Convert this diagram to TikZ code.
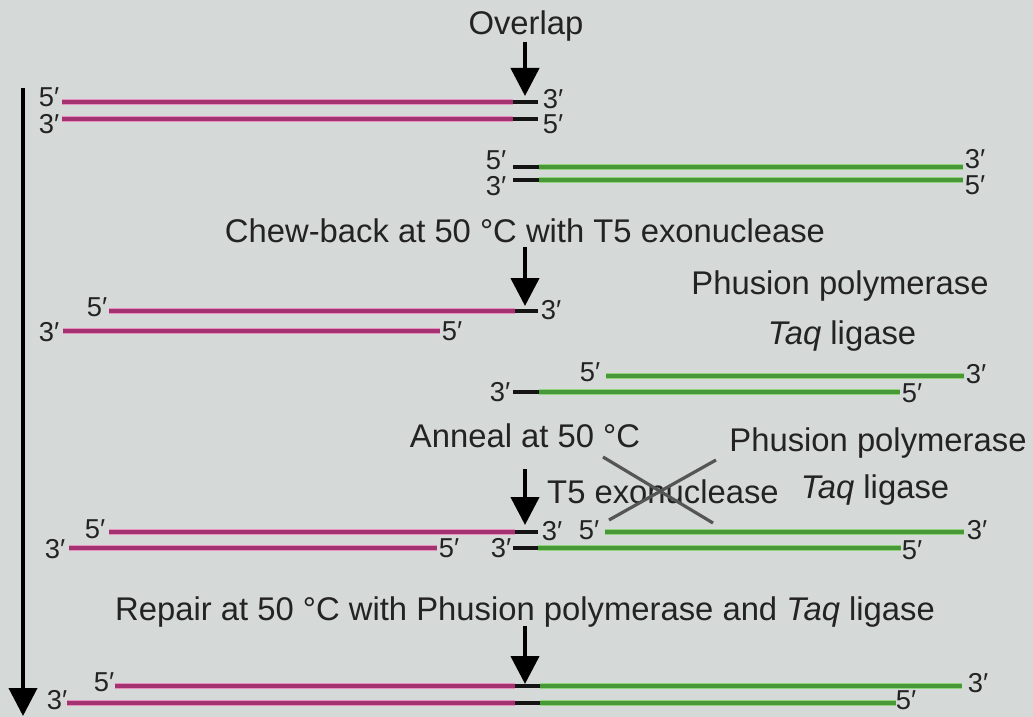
\documentclass[tikz,border=0pt]{standalone}
\usepackage{fontspec}
\setmainfont{Liberation Sans}
\usetikzlibrary{arrows.meta}
\definecolor{bg}{RGB}{213,217,216}
\definecolor{txt}{RGB}{35,35,35}
\definecolor{pinkin}{RGB}{165,50,112}
\definecolor{pinkout}{RGB}{230,145,192}
\definecolor{greenin}{RGB}{72,152,56}
\definecolor{greenout}{RGB}{145,212,125}
\definecolor{xgray}{RGB}{85,85,85}
\begin{document}
\begin{tikzpicture}[x=0.75pt,y=-0.75pt,
  pinkstr/.style={line width=2.3pt, draw=pinkin, preaction={draw=pinkout, line width=4.2pt}},
  greenstr/.style={line width=2.3pt, draw=greenin, preaction={draw=greenout, line width=4.2pt}},
  blackstr/.style={line width=3.2pt, draw=black!92},
  lbl/.style={font=\fontsize{20.5}{20.5}\selectfont, text=txt, inner sep=0pt},
  big/.style={font=\fontsize{24.6}{26}\selectfont, text=txt, inner sep=0pt, anchor=base},
  steparrow/.style={line width=3.3pt, -{Triangle[width=21pt,length=21pt]}},
  mainarrow/.style={line width=3pt, -{Triangle[width=21pt,length=21pt]}},
  cross/.style={line width=2.4pt, draw=xgray}]
\fill[bg] (0,0) rectangle (1033,717);
\useasboundingbox (0,0) rectangle (1033,717);

% main time arrow
\coordinate (mtop) at (23,88);
\coordinate (mbot) at (23,716);
\draw[mainarrow] (mtop) -- (mbot);

% ---------- Row 1 ----------
\node[big] (ovl) at (526,35) {Overlap};
\coordinate (a1s) at (525,42); \coordinate (a1e) at (525,96);
\draw[steparrow] (a1s) -- (a1e);
\draw[pinkstr] (62,102) -- (513,102); \draw[blackstr] (513,102) -- (538,102);
\draw[pinkstr] (62,119) -- (513,119); \draw[blackstr] (513,119) -- (538,119);
\node[lbl] (r1l5) at (49,97) {5′};
\node[lbl] (r1l3) at (49,124) {3′};
\node[lbl] (r1r3) at (553,99) {3′};
\node[lbl] (r1r5) at (553,124) {5′};
\draw[blackstr] (513,167) -- (539,167); \draw[greenstr] (539,167) -- (963,167);
\draw[blackstr] (513,180) -- (539,180); \draw[greenstr] (539,180) -- (963,180);
\node[lbl] (g1l5) at (496,160) {5′};
\node[lbl] (g1l3) at (496,186) {3′};
\node[lbl] (g1r3) at (975,159) {3′};
\node[lbl] (g1r5) at (975,185) {5′};

% ---------- Row 2 ----------
\node[big] (chew) at (525,242) {Chew-back at 50 °C with T5 exonuclease};
\coordinate (a2s) at (525,247); \coordinate (a2e) at (525,306);
\draw[steparrow] (a2s) -- (a2e);
\node[big] (phu1) at (840,294) {Phusion polymerase};
\node[big] (taq1) at (842,344) {\textit{Taq} ligase};
\draw[pinkstr] (109,311) -- (515,311); \draw[blackstr] (515,311) -- (538,311);
\draw[pinkstr] (63,331) -- (440,331);
\node[lbl] (p2l5) at (97,307) {5′};
\node[lbl] (p2l3) at (49,332) {3′};
\node[lbl] (p2r5) at (452,331) {5′};
\node[lbl] (p2r3) at (551,310) {3′};
\draw[greenstr] (606,376) -- (964,376);
\draw[blackstr] (513,392) -- (539,392); \draw[greenstr] (539,392) -- (900,392);
\node[lbl] (g2l3) at (500,392) {3′};
\node[lbl] (g2l5) at (590,372) {5′};
\node[lbl] (g2r5) at (912,393) {5′};
\node[lbl] (g2r3) at (976,374) {3′};

% ---------- Row 3 ----------
\node[big] (ann) at (525,447) {Anneal at 50 °C};
\node[big] (phu2) at (878,451) {Phusion polymerase};
\coordinate (a3s) at (525,469); \coordinate (a3e) at (525,525);
\draw[steparrow] (a3s) -- (a3e);
\node[big] (t5) at (663,503) {T5 exonuclease};
\node[big] (taq2) at (875,498) {\textit{Taq} ligase};
\coordinate (x1a) at (603,457); \coordinate (x1b) at (713,523);
\coordinate (x2a) at (716,460); \coordinate (x2b) at (609,520);
\draw[cross] (x1a) -- (x1b);
\draw[cross] (x2a) -- (x2b);
\draw[pinkstr] (109,532) -- (515,532); \draw[blackstr] (515,532) -- (538,532);
\draw[pinkstr] (69,548) -- (437,548);
\node[lbl] (p3l5) at (95,529) {5′};
\node[lbl] (p3l3) at (55,549) {3′};
\node[lbl] (p3r5) at (449,548) {5′};
\node[lbl] (p3r3) at (552,531) {3′};
\draw[greenstr] (605,532) -- (964,532);
\draw[blackstr] (513,548) -- (538,548); \draw[greenstr] (538,548) -- (901,548);
\node[lbl] (g3l5) at (589,530) {5′};
\node[lbl] (g3l3) at (501,548) {3′};
\node[lbl] (g3r5) at (912,550) {5′};
\node[lbl] (g3r3) at (977,530) {3′};

% ---------- Row 4 ----------
\node[big] (rep) at (525,620) {Repair at 50 °C with Phusion polymerase and \textit{Taq} ligase};
\coordinate (a4s) at (525,626); \coordinate (a4e) at (525,684);
\draw[steparrow] (a4s) -- (a4e);
\draw[pinkstr] (115,686) -- (515,686); \draw[blackstr] (515,686) -- (540,686); \draw[greenstr] (540,686) -- (962,686);
\draw[pinkstr] (67,703) -- (515,703); \draw[blackstr] (515,703) -- (540,703); \draw[greenstr] (540,703) -- (896,703);
\node[lbl] (f4l5) at (104,682) {5′};
\node[lbl] (f4l3) at (57,700) {3′};
\node[lbl] (f4r3) at (978,683) {3′};
\node[lbl] (f4r5) at (906,700) {5′};
\end{tikzpicture}
\end{document}
